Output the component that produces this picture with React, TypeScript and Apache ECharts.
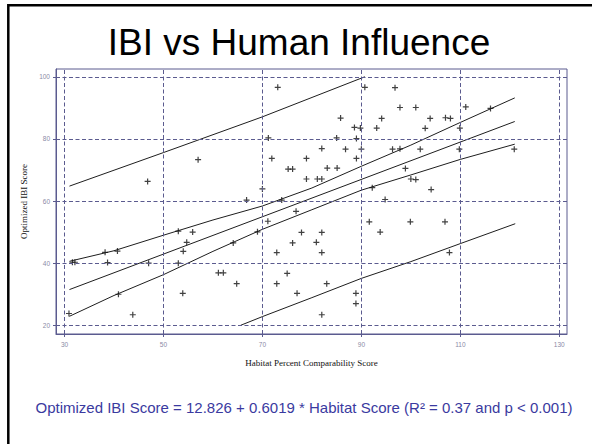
import React, { useEffect, useRef } from "react";
import * as echarts from "echarts";

const xTicks = [30, 50, 70, 90, 110, 130];
const yTicks = [20, 40, 60, 80, 100];

// [Habitat Percent Comparability Score, Optimized IBI Score]
const sites: number[][] = [
  [46.8, 66.3], [57.0, 73.3], [53.0, 50.3], [55.9, 50.0], [54.7, 46.7], [38.2, 43.5],
  [40.7, 43.9], [54.0, 43.8], [31.6, 40.3], [32.1, 40.3], [38.7, 40.2], [47.0, 40.0],
  [53.0, 40.0], [40.9, 30.0], [53.9, 30.3], [30.9, 23.8], [43.8, 23.4],
  [66.8, 60.3], [73.9, 60.3], [76.8, 56.7], [71.1, 53.5], [91.6, 53.3], [69.0, 50.1],
  [77.9, 49.9], [82.0, 49.9], [64.1, 46.5], [76.1, 46.5], [80.9, 46.7], [72.9, 43.4],
  [82.0, 43.4], [61.1, 36.9], [62.1, 36.9], [75.0, 36.7], [64.8, 33.4], [72.9, 33.4],
  [83.0, 33.4], [77.0, 30.3], [88.9, 30.3], [88.9, 27.0], [82.0, 23.4],
  [73.1, 96.6], [90.7, 96.6], [85.8, 86.7], [88.6, 83.7], [89.8, 83.5], [71.2, 80.3],
  [85.0, 80.3], [89.0, 80.1], [82.0, 76.9], [86.8, 76.7], [90.0, 76.7], [71.9, 73.7],
  [78.9, 73.7], [89.0, 73.7], [75.2, 70.3], [76.1, 70.3], [83.1, 70.6], [85.1, 70.6],
  [78.9, 67.1], [81.1, 67.1], [82.0, 67.1], [70.0, 63.9],
  [96.8, 96.5], [97.8, 90.1], [101.0, 90.1], [111.1, 90.3], [116.1, 89.8], [94.1, 86.6],
  [103.9, 86.6], [107.0, 86.8], [108.0, 86.6], [93.1, 83.5], [102.9, 83.4], [109.9, 83.5],
  [96.3, 76.7], [97.8, 76.8], [101.9, 76.7], [109.8, 76.7], [120.9, 76.7], [98.9, 70.5],
  [100.0, 67.1], [101.0, 66.9], [92.2, 64.3], [104.1, 63.7], [94.8, 60.5],
  [99.9, 53.3], [106.9, 53.3], [93.8, 50.0], [107.8, 43.4],
];

const fitLine = [[31, 31.5], [121, 85.6]];
const confUpper = [[31, 40.6], [40, 44.0], [50, 49.0], [60, 53.9], [70, 58.4], [80, 64.2], [90, 71.2], [100, 78.0], [110, 85.3], [121, 93.2]];
const confLower = [[31, 22.9], [40, 29.6], [50, 36.3], [60, 43.8], [70, 50.9], [80, 57.2], [90, 63.5], [100, 68.4], [110, 73.4], [121, 78.3]];
const predUpper = [[31, 64.8], [50, 75.6], [70, 87.1], [90.7, 100]];
const predLower = [[65.6, 20], [70, 22.8], [80, 28.9], [90, 35.1], [100, 40.5], [110, 46.3], [121.1, 52.7]];

const titleText = "IBI vs Human Influence";
const formulaText = "Optimized IBI Score = 12.826 + 0.6019 * Habitat Score (R² = 0.37 and p < 0.001)";
const xName = "Habitat Percent Comparability Score";
const yName = "Optimized IBI Score";

const axisColor = "#5b5b8f";
const plusSymbol = "path://M4,0H6V4H10V6H6V10H4V6H0V4H4Z";

export default function App() {
  const ref = useRef<HTMLDivElement>(null);
  useEffect(() => {
    const chart = echarts.init(ref.current!, null, { renderer: "svg" });
    const lineSeries = (data: number[][]) => ({
      type: "line",
      data,
      symbol: "none",
      showSymbol: false,
      z: 3,
      lineStyle: { color: "#1e1e1e", width: 1 },
    });
    chart.setOption({
      animation: false,
      backgroundColor: "#ffffff",
      grid: {
        left: 56,
        top: 69,
        width: 511,
        height: 265,
        show: true,
        borderColor: axisColor,
        borderWidth: 1,
        backgroundColor: "transparent",
      },
      xAxis: {
        type: "value",
        min: 28.28,
        max: 131.56,
        name: xName,
        nameLocation: "middle",
        nameGap: 24,
        nameTextStyle: { fontFamily: "Liberation Serif", fontSize: 9, color: "#111" },
        axisLine: { show: true, onZero: false, lineStyle: { color: axisColor } },
        axisTick: { show: true, customValues: xTicks, length: 3, lineStyle: { color: axisColor } },
        axisLabel: { customValues: xTicks, fontSize: 6.5, color: "#8a8aa6", margin: 7, fontFamily: "Liberation Sans" },
        splitLine: { show: false },
      },
      yAxis: {
        type: "value",
        min: 17.2,
        max: 102.5,
        name: yName,
        nameLocation: "middle",
        nameGap: 19,
        nameTextStyle: { fontFamily: "Liberation Serif", fontSize: 9, color: "#111" },
        axisLine: { show: true, onZero: false, lineStyle: { color: axisColor } },
        axisTick: { show: true, customValues: yTicks, length: 3, lineStyle: { color: axisColor } },
        axisLabel: { customValues: yTicks, fontSize: 6.5, color: "#8a8aa6", margin: 6, fontFamily: "Liberation Sans" },
        splitLine: { show: false },
      },
      graphic: [
        {
          type: "rect",
          shape: { x: 8.3, y: 5.3, width: 800, height: 800 },
          style: { fill: "none", stroke: "#000", lineWidth: 2.5 },
          silent: true,
        },
        {
          type: "text",
          x: 299,
          y: 42,
          style: {
            text: titleText,
            fill: "#000",
            font: "37px 'Liberation Sans', Arial, sans-serif",
            textAlign: "center",
            textVerticalAlign: "middle",
          },
        },
        {
          type: "text",
          x: 304,
          y: 407,
          style: {
            text: formulaText,
            fill: "#3a3aa0",
            font: "15px 'Liberation Sans', Arial, sans-serif",
            textAlign: "center",
            textVerticalAlign: "middle",
          },
        },
      ],
      series: [
        {
          type: "line",
          data: [],
          z: 1,
          markLine: {
            silent: true,
            symbol: ["none", "none"],
            label: { show: false },
            lineStyle: { type: [4, 2.5], color: axisColor, width: 1 },
            data: [
              ...xTicks.map((v) => ({ xAxis: v })),
              ...yTicks.map((v) => ({ yAxis: v })),
            ],
          },
        },
        lineSeries(predUpper),
        lineSeries(confUpper),
        lineSeries(fitLine),
        lineSeries(confLower),
        lineSeries(predLower),
        {
          type: "scatter",
          data: sites,
          symbol: plusSymbol,
          symbolSize: 6,
          z: 4,
          itemStyle: { color: "#111" },
        },
      ],
    });
    return () => chart.dispose();
  }, []);
  return (
    <div
      ref={ref}
      style={{ position: "fixed", left: 0, top: 0, width: 592, height: 444, background: "#fff" }}
    />
  );
}
